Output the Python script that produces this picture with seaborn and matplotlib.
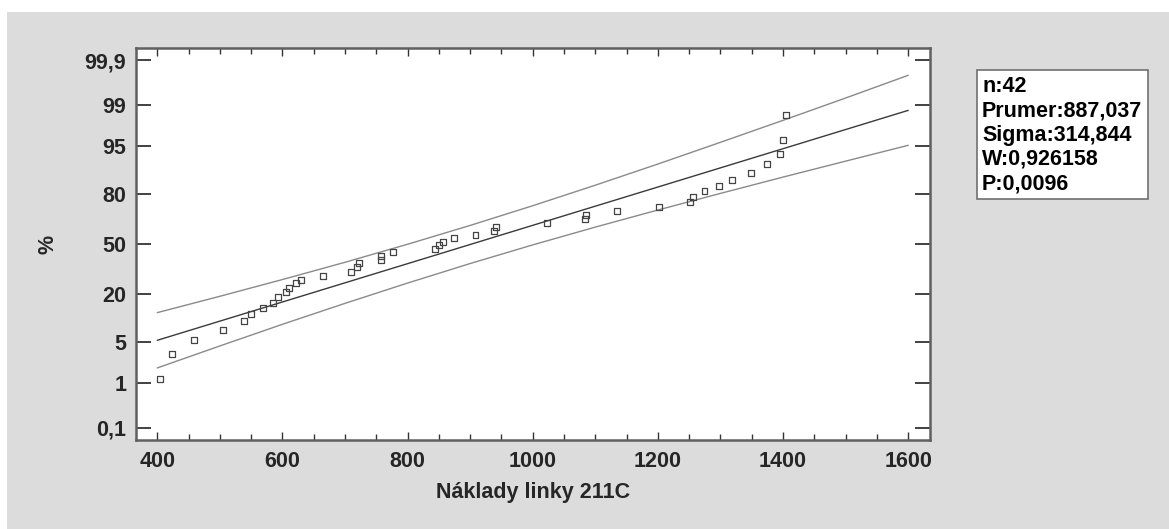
import numpy as np
import pandas as pd
import matplotlib
matplotlib.use("Agg")
import matplotlib.pyplot as plt
from matplotlib.patches import Rectangle
from matplotlib.ticker import FixedLocator, FixedFormatter, MultipleLocator
import seaborn as sns
from statistics import NormalDist

# ---------------- data ----------------
cost = [404.3, 423.5, 459.1, 504.5, 538.6, 549.8, 569.4, 585.4, 593.4, 606.2,
        611.0, 622.2, 629.2, 664.4, 709.6, 719.7, 722.4, 757.1, 758.1, 776.3,
        843.9, 850.3, 857.0, 874.7, 908.6, 937.4, 941.1, 1023.4, 1083.2, 1084.8,
        1135.3, 1201.1, 1251.8, 1256.6, 1274.4, 1298.3, 1318.2, 1348.7, 1374.6,
        1395.7, 1400.6, 1405.4]
pct = [1.19, 3.19, 5.29, 7.44, 9.80, 11.88, 14.12, 16.08, 18.67, 20.87,
       23.15, 25.46, 27.43, 29.73, 32.09, 34.78, 37.29, 39.60, 42.19, 44.47,
       46.45, 49.12, 51.20, 53.87, 56.01, 58.51, 61.37, 63.98, 66.28, 68.86,
       71.19, 73.44, 76.12, 78.35, 81.19, 83.37, 85.81, 88.24, 90.97, 93.42,
       95.97, 98.47]

fit_x = [400, 1600]
fit_pct = [5.29, 98.76]

band_x = [400, 500, 600, 700, 800, 900, 1000, 1100, 1200, 1300, 1400, 1500, 1600]
band_upper = [12.45, 18.99, 27.53, 37.94, 49.84, 62.25, 73.99, 83.84, 91.04,
              95.62, 98.11, 99.29, 99.77]
band_lower = [1.87, 4.34, 8.87, 15.94, 25.59, 37.15, 49.40, 61.18, 71.60,
              80.23, 86.95, 91.80, 95.13]

y_ticks = [0.1, 1, 5, 20, 50, 80, 95, 99, 99.9]
y_tick_labels = ["0,1", "1", "5", "20", "50", "80", "95", "99", "99,9"]
x_ticks = [400, 600, 800, 1000, 1200, 1400, 1600]
x_label = "Náklady linky 211C"
y_label = "%"
stats_lines = ["n:42", "Prumer:887,037", "Sigma:314,844", "W:0,926158", "P:0,0096"]

# ---------------- probability scale ----------------
_nd = NormalDist()
_ppf = np.vectorize(lambda q: _nd.inv_cdf(q), otypes=[float])
_cdf = np.vectorize(lambda z: _nd.cdf(z), otypes=[float])


def fwd(p):
    p = np.asarray(p, dtype=float)
    q = np.clip(p / 100.0, 1e-12, 1 - 1e-12)
    return _ppf(q)


def inv(z):
    z = np.asarray(z, dtype=float)
    return 100.0 * _cdf(z)


sns.set_style("white")
FONT = ["Liberation Sans", "DejaVu Sans"]
plt.rcParams["font.family"] = FONT

W, H = 1169, 529
fig = plt.figure(figsize=(W / 100, H / 100), dpi=100)
fig.patch.set_facecolor("white")
BG = "#dcdcdc"
fig.add_artist(Rectangle((7 / W, 0), 1 - 7 / W, 1 - 12 / H, transform=fig.transFigure,
                         facecolor=BG, edgecolor="none", zorder=0))

ax_l, ax_r, ax_t, ax_b = 136, 929.5, 48, 440
ax = fig.add_axes([ax_l / W, 1 - ax_b / H, (ax_r - ax_l) / W, (ax_b - ax_t) / H])
ax.set_facecolor("white")

ax.set_yscale("function", functions=(fwd, inv))

band_df = pd.DataFrame({"x": band_x, "upper": band_upper, "lower": band_lower})
fit_df = pd.DataFrame({"x": fit_x, "y": fit_pct})
pts_df = pd.DataFrame({"cost": cost, "pct": pct})

sns.lineplot(data=band_df, x="x", y="upper", ax=ax, color="#8a8a8a", lw=1.0)
sns.lineplot(data=band_df, x="x", y="lower", ax=ax, color="#8a8a8a", lw=1.0)
sns.lineplot(data=fit_df, x="x", y="y", ax=ax, color="#3a3a3a", lw=1.0)
sns.scatterplot(data=pts_df, x="cost", y="pct", ax=ax, marker="s", s=18,
                color="#444444", linewidth=0.9, zorder=5)
ax.collections[-1].set_facecolor("none")
ax.collections[-1].set_edgecolor("#444444")

ax.set_xlim(366, 1634)
ax.set_ylim(inv(-3.292), inv(3.292))

ax.yaxis.set_major_locator(FixedLocator(y_ticks))
ax.yaxis.set_major_formatter(FixedFormatter(y_tick_labels))
ax.yaxis.set_minor_locator(FixedLocator([]))
ax.xaxis.set_major_locator(FixedLocator(x_ticks))
ax.xaxis.set_minor_locator(MultipleLocator(50))

spine_c = "#606060"
for s in ax.spines.values():
    s.set_color(spine_c)
    s.set_linewidth(1.8)

ax.tick_params(axis="y", which="major", direction="in", length=11, width=1.3,
               color="#333333", left=True, right=True, labelright=False, pad=7,
               labelsize=15.5)
ax.tick_params(axis="x", which="major", direction="in", length=6, width=1.0,
               color="#333333", bottom=True, top=True, pad=8, labelsize=15.5)
ax.tick_params(axis="x", which="minor", direction="in", length=4, width=1.0,
               color="#333333", bottom=True, top=True)
for lab in ax.get_xticklabels() + ax.get_yticklabels():
    lab.set_fontweight("bold")

ax.set_xlabel(x_label, fontsize=15.5, fontweight="bold", labelpad=7)
ax.set_ylabel(y_label, fontsize=15.5, fontweight="bold")
ax.yaxis.set_label_coords((58 - ax_l) / (ax_r - ax_l), 0.5)
ax.grid(False)

# stats box
bx0, bx1, by0, by1 = 977, 1148, 70, 199
fig.add_artist(Rectangle((bx0 / W, 1 - by1 / H), (bx1 - bx0) / W, (by1 - by0) / H,
                         transform=fig.transFigure, facecolor="white",
                         edgecolor="#707070", linewidth=1.2, zorder=3))
line_y = [87, 111, 135, 159, 184]
for txt, yy in zip(stats_lines, line_y):
    fig.text(982 / W, 1 - yy / H, txt, fontsize=15.5, fontweight="bold",
             ha="left", va="center", color="black", zorder=4)

fig.savefig("out.png", dpi=100, facecolor=fig.get_facecolor())
